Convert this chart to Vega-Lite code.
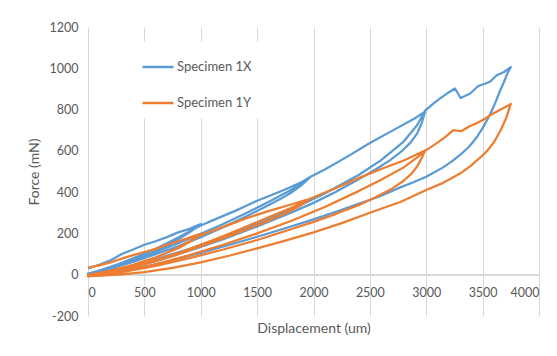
{
  "$schema": "https://vega.github.io/schema/vega-lite/v6.json",
  "width": 451,
  "height": 289,
  "autosize": {"type": "none"},
  "padding": {"left": 88, "top": 27, "right": 18, "bottom": 40},
  "background": "white",
  "config": {
    "font": "Lato",
    "view": {"stroke": null},
    "axis": {"labelColor": "#595959", "titleColor": "#595959", "labelFontSize": 12.5, "titleFontSize": 14, "titleFontWeight": "normal", "gridColor": "#d9d9d9", "domainColor": "#d9d9d9", "ticks": false}
  },
  "data": {"values": [
    {"s":"Specimen 1X","x":0,"y":30},{"s":"Specimen 1X","x":100,"y":48},{"s":"Specimen 1X","x":200,"y":70},{"s":"Specimen 1X","x":300,"y":100},{"s":"Specimen 1X","x":400,"y":122},{"s":"Specimen 1X","x":500,"y":145},{"s":"Specimen 1X","x":600,"y":162},{"s":"Specimen 1X","x":700,"y":182},{"s":"Specimen 1X","x":800,"y":205},{"s":"Specimen 1X","x":900,"y":222},{"s":"Specimen 1X","x":1000,"y":245},
    {"s":"Specimen 1X","x":960,"y":228},{"s":"Specimen 1X","x":900,"y":205},{"s":"Specimen 1X","x":800,"y":172},{"s":"Specimen 1X","x":700,"y":142},{"s":"Specimen 1X","x":600,"y":114},{"s":"Specimen 1X","x":500,"y":89},{"s":"Specimen 1X","x":400,"y":66},{"s":"Specimen 1X","x":300,"y":46},{"s":"Specimen 1X","x":200,"y":28},{"s":"Specimen 1X","x":100,"y":14},{"s":"Specimen 1X","x":0,"y":2},
    {"s":"Specimen 1X","x":100,"y":20},{"s":"Specimen 1X","x":200,"y":38},{"s":"Specimen 1X","x":300,"y":58},{"s":"Specimen 1X","x":400,"y":80},{"s":"Specimen 1X","x":500,"y":102},{"s":"Specimen 1X","x":600,"y":126},{"s":"Specimen 1X","x":700,"y":152},{"s":"Specimen 1X","x":800,"y":180},{"s":"Specimen 1X","x":900,"y":210},{"s":"Specimen 1X","x":1000,"y":238},{"s":"Specimen 1X","x":1100,"y":262},{"s":"Specimen 1X","x":1200,"y":285},{"s":"Specimen 1X","x":1300,"y":308},{"s":"Specimen 1X","x":1400,"y":333},{"s":"Specimen 1X","x":1500,"y":358},{"s":"Specimen 1X","x":1600,"y":380},{"s":"Specimen 1X","x":1700,"y":402},{"s":"Specimen 1X","x":1800,"y":425},{"s":"Specimen 1X","x":1900,"y":450},{"s":"Specimen 1X","x":1970,"y":473},
    {"s":"Specimen 1X","x":1930,"y":452},{"s":"Specimen 1X","x":1880,"y":428},{"s":"Specimen 1X","x":1800,"y":397},{"s":"Specimen 1X","x":1700,"y":365},{"s":"Specimen 1X","x":1600,"y":336},{"s":"Specimen 1X","x":1400,"y":282},{"s":"Specimen 1X","x":1200,"y":230},{"s":"Specimen 1X","x":1000,"y":182},{"s":"Specimen 1X","x":800,"y":138},{"s":"Specimen 1X","x":600,"y":99},{"s":"Specimen 1X","x":400,"y":62},{"s":"Specimen 1X","x":200,"y":30},{"s":"Specimen 1X","x":0,"y":5},
    {"s":"Specimen 1X","x":200,"y":35},{"s":"Specimen 1X","x":400,"y":72},{"s":"Specimen 1X","x":600,"y":110},{"s":"Specimen 1X","x":800,"y":153},{"s":"Specimen 1X","x":1000,"y":198},{"s":"Specimen 1X","x":1200,"y":246},{"s":"Specimen 1X","x":1400,"y":298},{"s":"Specimen 1X","x":1600,"y":352},{"s":"Specimen 1X","x":1800,"y":410},{"s":"Specimen 1X","x":1970,"y":473},{"s":"Specimen 1X","x":2100,"y":510},{"s":"Specimen 1X","x":2300,"y":572},{"s":"Specimen 1X","x":2500,"y":638},{"s":"Specimen 1X","x":2700,"y":698},{"s":"Specimen 1X","x":2900,"y":758},{"s":"Specimen 1X","x":2990,"y":790},
    {"s":"Specimen 1X","x":2960,"y":735},{"s":"Specimen 1X","x":2920,"y":685},{"s":"Specimen 1X","x":2860,"y":640},{"s":"Specimen 1X","x":2780,"y":597},{"s":"Specimen 1X","x":2680,"y":555},{"s":"Specimen 1X","x":2550,"y":510},{"s":"Specimen 1X","x":2400,"y":462},{"s":"Specimen 1X","x":2200,"y":402},{"s":"Specimen 1X","x":2000,"y":348},{"s":"Specimen 1X","x":1800,"y":300},{"s":"Specimen 1X","x":1500,"y":234},{"s":"Specimen 1X","x":1200,"y":172},{"s":"Specimen 1X","x":900,"y":116},{"s":"Specimen 1X","x":600,"y":66},{"s":"Specimen 1X","x":300,"y":25},{"s":"Specimen 1X","x":0,"y":0},
    {"s":"Specimen 1X","x":300,"y":30},{"s":"Specimen 1X","x":600,"y":75},{"s":"Specimen 1X","x":900,"y":125},{"s":"Specimen 1X","x":1200,"y":182},{"s":"Specimen 1X","x":1500,"y":245},{"s":"Specimen 1X","x":1800,"y":315},{"s":"Specimen 1X","x":2100,"y":393},{"s":"Specimen 1X","x":2400,"y":483},{"s":"Specimen 1X","x":2600,"y":555},{"s":"Specimen 1X","x":2800,"y":645},{"s":"Specimen 1X","x":2920,"y":725},{"s":"Specimen 1X","x":2990,"y":795},{"s":"Specimen 1X","x":3060,"y":828},{"s":"Specimen 1X","x":3120,"y":853},{"s":"Specimen 1X","x":3190,"y":880},{"s":"Specimen 1X","x":3255,"y":902},{"s":"Specimen 1X","x":3305,"y":856},{"s":"Specimen 1X","x":3390,"y":878},{"s":"Specimen 1X","x":3460,"y":914},{"s":"Specimen 1X","x":3520,"y":925},{"s":"Specimen 1X","x":3565,"y":935},{"s":"Specimen 1X","x":3625,"y":966},{"s":"Specimen 1X","x":3690,"y":982},{"s":"Specimen 1X","x":3750,"y":1006},
    {"s":"Specimen 1X","x":3720,"y":975},{"s":"Specimen 1X","x":3690,"y":935},{"s":"Specimen 1X","x":3650,"y":885},{"s":"Specimen 1X","x":3610,"y":830},{"s":"Specimen 1X","x":3565,"y":775},{"s":"Specimen 1X","x":3510,"y":720},{"s":"Specimen 1X","x":3450,"y":667},{"s":"Specimen 1X","x":3380,"y":620},{"s":"Specimen 1X","x":3300,"y":580},{"s":"Specimen 1X","x":3230,"y":550},{"s":"Specimen 1X","x":3150,"y":520},{"s":"Specimen 1X","x":3000,"y":475},{"s":"Specimen 1X","x":2880,"y":447},{"s":"Specimen 1X","x":2770,"y":423},{"s":"Specimen 1X","x":2590,"y":380},{"s":"Specimen 1X","x":2400,"y":343},{"s":"Specimen 1X","x":2200,"y":305},{"s":"Specimen 1X","x":2000,"y":268},{"s":"Specimen 1X","x":1750,"y":225},{"s":"Specimen 1X","x":1500,"y":184},{"s":"Specimen 1X","x":1250,"y":144},{"s":"Specimen 1X","x":1000,"y":106},{"s":"Specimen 1X","x":750,"y":70},{"s":"Specimen 1X","x":500,"y":38},{"s":"Specimen 1X","x":250,"y":12},{"s":"Specimen 1X","x":0,"y":-5},

    {"s":"Specimen 1Y","x":0,"y":35},{"s":"Specimen 1Y","x":100,"y":45},{"s":"Specimen 1Y","x":200,"y":60},{"s":"Specimen 1Y","x":300,"y":78},{"s":"Specimen 1Y","x":400,"y":95},{"s":"Specimen 1Y","x":500,"y":110},{"s":"Specimen 1Y","x":600,"y":125},{"s":"Specimen 1Y","x":700,"y":145},{"s":"Specimen 1Y","x":800,"y":162},{"s":"Specimen 1Y","x":900,"y":180},{"s":"Specimen 1Y","x":1000,"y":198},
    {"s":"Specimen 1Y","x":960,"y":182},{"s":"Specimen 1Y","x":900,"y":162},{"s":"Specimen 1Y","x":800,"y":132},{"s":"Specimen 1Y","x":700,"y":106},{"s":"Specimen 1Y","x":600,"y":83},{"s":"Specimen 1Y","x":500,"y":63},{"s":"Specimen 1Y","x":400,"y":45},{"s":"Specimen 1Y","x":300,"y":30},{"s":"Specimen 1Y","x":200,"y":17},{"s":"Specimen 1Y","x":100,"y":7},{"s":"Specimen 1Y","x":0,"y":-2},
    {"s":"Specimen 1Y","x":200,"y":20},{"s":"Specimen 1Y","x":400,"y":48},{"s":"Specimen 1Y","x":600,"y":84},{"s":"Specimen 1Y","x":800,"y":128},{"s":"Specimen 1Y","x":900,"y":158},{"s":"Specimen 1Y","x":1000,"y":192},{"s":"Specimen 1Y","x":1200,"y":232},{"s":"Specimen 1Y","x":1400,"y":273},{"s":"Specimen 1Y","x":1600,"y":308},{"s":"Specimen 1Y","x":1800,"y":340},{"s":"Specimen 1Y","x":1970,"y":368},
    {"s":"Specimen 1Y","x":1930,"y":352},{"s":"Specimen 1Y","x":1880,"y":334},{"s":"Specimen 1Y","x":1800,"y":310},{"s":"Specimen 1Y","x":1700,"y":285},{"s":"Specimen 1Y","x":1600,"y":262},{"s":"Specimen 1Y","x":1400,"y":218},{"s":"Specimen 1Y","x":1200,"y":177},{"s":"Specimen 1Y","x":1000,"y":138},{"s":"Specimen 1Y","x":800,"y":100},{"s":"Specimen 1Y","x":600,"y":66},{"s":"Specimen 1Y","x":400,"y":36},{"s":"Specimen 1Y","x":200,"y":12},{"s":"Specimen 1Y","x":0,"y":-5},
    {"s":"Specimen 1Y","x":200,"y":15},{"s":"Specimen 1Y","x":400,"y":40},{"s":"Specimen 1Y","x":600,"y":70},{"s":"Specimen 1Y","x":800,"y":105},{"s":"Specimen 1Y","x":1000,"y":145},{"s":"Specimen 1Y","x":1200,"y":187},{"s":"Specimen 1Y","x":1400,"y":232},{"s":"Specimen 1Y","x":1600,"y":278},{"s":"Specimen 1Y","x":1800,"y":323},{"s":"Specimen 1Y","x":1970,"y":368},{"s":"Specimen 1Y","x":2200,"y":420},{"s":"Specimen 1Y","x":2400,"y":468},{"s":"Specimen 1Y","x":2600,"y":512},{"s":"Specimen 1Y","x":2800,"y":553},{"s":"Specimen 1Y","x":2990,"y":602},
    {"s":"Specimen 1Y","x":2960,"y":565},{"s":"Specimen 1Y","x":2920,"y":525},{"s":"Specimen 1Y","x":2870,"y":490},{"s":"Specimen 1Y","x":2800,"y":455},{"s":"Specimen 1Y","x":2700,"y":418},{"s":"Specimen 1Y","x":2550,"y":375},{"s":"Specimen 1Y","x":2400,"y":337},{"s":"Specimen 1Y","x":2200,"y":295},{"s":"Specimen 1Y","x":2000,"y":256},{"s":"Specimen 1Y","x":1800,"y":220},{"s":"Specimen 1Y","x":1500,"y":168},{"s":"Specimen 1Y","x":1200,"y":122},{"s":"Specimen 1Y","x":900,"y":80},{"s":"Specimen 1Y","x":600,"y":43},{"s":"Specimen 1Y","x":300,"y":12},{"s":"Specimen 1Y","x":0,"y":-8},
    {"s":"Specimen 1Y","x":300,"y":15},{"s":"Specimen 1Y","x":600,"y":50},{"s":"Specimen 1Y","x":900,"y":95},{"s":"Specimen 1Y","x":1200,"y":145},{"s":"Specimen 1Y","x":1500,"y":200},{"s":"Specimen 1Y","x":1800,"y":260},{"s":"Specimen 1Y","x":2100,"y":328},{"s":"Specimen 1Y","x":2400,"y":405},{"s":"Specimen 1Y","x":2600,"y":460},{"s":"Specimen 1Y","x":2800,"y":520},{"s":"Specimen 1Y","x":2920,"y":568},{"s":"Specimen 1Y","x":2990,"y":600},{"s":"Specimen 1Y","x":3050,"y":622},{"s":"Specimen 1Y","x":3100,"y":640},{"s":"Specimen 1Y","x":3170,"y":668},{"s":"Specimen 1Y","x":3240,"y":700},{"s":"Specimen 1Y","x":3310,"y":695},{"s":"Specimen 1Y","x":3380,"y":718},{"s":"Specimen 1Y","x":3450,"y":735},{"s":"Specimen 1Y","x":3510,"y":752},{"s":"Specimen 1Y","x":3565,"y":772},{"s":"Specimen 1Y","x":3660,"y":800},{"s":"Specimen 1Y","x":3750,"y":827},
    {"s":"Specimen 1Y","x":3730,"y":795},{"s":"Specimen 1Y","x":3710,"y":760},{"s":"Specimen 1Y","x":3660,"y":700},{"s":"Specimen 1Y","x":3600,"y":642},{"s":"Specimen 1Y","x":3540,"y":600},{"s":"Specimen 1Y","x":3480,"y":568},{"s":"Specimen 1Y","x":3400,"y":530},{"s":"Specimen 1Y","x":3300,"y":490},{"s":"Specimen 1Y","x":3150,"y":445},{"s":"Specimen 1Y","x":3000,"y":410},{"s":"Specimen 1Y","x":2770,"y":352},{"s":"Specimen 1Y","x":2500,"y":300},{"s":"Specimen 1Y","x":2250,"y":250},{"s":"Specimen 1Y","x":2000,"y":205},{"s":"Specimen 1Y","x":1750,"y":165},{"s":"Specimen 1Y","x":1500,"y":128},{"s":"Specimen 1Y","x":1250,"y":92},{"s":"Specimen 1Y","x":1000,"y":60},{"s":"Specimen 1Y","x":750,"y":33},{"s":"Specimen 1Y","x":500,"y":13},{"s":"Specimen 1Y","x":300,"y":2},{"s":"Specimen 1Y","x":0,"y":-8}
  ]},
  "resolve": {"axis": {"x": "independent"}},
  "layer": [
    {
      "mark": {"type": "rule", "color": "#d9d9d9", "strokeWidth": 1},
      "encoding": {
        "x": {"datum": 0, "type": "quantitative", "scale": {"domain": [0, 4000], "nice": false},
          "axis": {"values": [0,500,1000,1500,2000,2500,3000,3500,4000], "labelExpr": "datum.value + ''", "grid": false, "domain": false, "title": "Displacement (um)", "offset": -41.29, "labelPadding": 12, "titlePadding": 22}},
        "x2": {"datum": 4000},
        "y": {"datum": 0, "type": "quantitative"}
      }
    },
    {
      "transform": [{"window": [{"op": "row_number", "as": "i"}], "groupby": ["s"]}],
      "mark": {"type": "line", "strokeWidth": 2.25, "strokeJoin": "round"},
      "encoding": {
        "x": {"field": "x", "type": "quantitative", "scale": {"domain": [0, 4000], "nice": false},
          "axis": {"values": [0,500,1000,1500,2000,2500,3000,3500,4000], "grid": true, "labels": false, "domain": false, "title": null}},
        "y": {"field": "y", "type": "quantitative", "scale": {"domain": [-200, 1200], "nice": false},
          "axis": {"values": [-200,0,200,400,600,800,1000,1200], "labelExpr": "datum.value + ''", "title": "Force (mN)", "domain": false, "labelPadding": 10, "titlePadding": 8}},
        "order": {"field": "i", "type": "quantitative"},
        "color": {"field": "s", "type": "nominal", "scale": {"range": ["#5B9BD5", "#ED7D31"]},
          "legend": {"title": null, "orient": "none", "legendX": 25, "legendY": 15, "fillColor": "white", "padding": 8, "symbolType": "stroke", "symbolSize": 961, "symbolStrokeWidth": 2.5, "symbolOffset": 20, "labelOffset": 2, "rowPadding": 12, "labelFontSize": 13, "labelColor": "#595959", "labelFont": "Lato"}}
      }
    }
  ]
}
